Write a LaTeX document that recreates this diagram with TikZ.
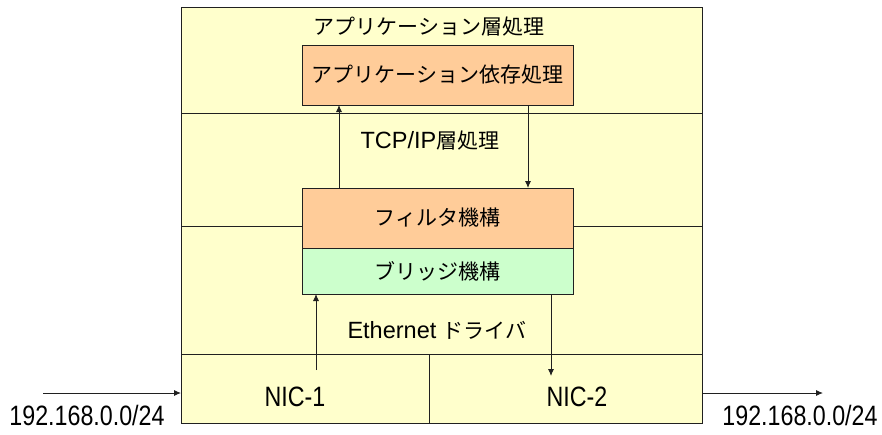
\documentclass[tikz,border=0pt]{standalone}
\usepackage{fontspec}
\setmainfont{Liberation Sans}
\newfontfamily\jp{Noto Sans CJK JP}
\newfontfamily\narrowfont[FakeStretch=0.83]{Liberation Sans}
\usetikzlibrary{arrows.meta}
\definecolor{bgyel}{HTML}{FFFFCC}
\definecolor{orng}{HTML}{FFCC99}
\definecolor{grn}{HTML}{CCFFCC}
\definecolor{ln}{HTML}{202020}
\begin{document}
\begin{tikzpicture}[x=1pt,y=-1pt,
  every node/.style={inner sep=0pt, outer sep=0pt},
  lbl/.style={font=\fontsize{21}{25}\selectfont},
  mlbl/.style={font=\fontsize{23.5}{27}\selectfont},
  nlbl/.style={font=\fontsize{28}{32}\selectfont\narrowfont},
  boxo/.style={draw=ln, line width=0.9pt, fill=orng, minimum width=271pt, lbl},
  boxg/.style={draw=ln, line width=0.9pt, fill=grn, minimum width=271pt, lbl},
  sep/.style={draw=ln, line width=0.9pt},
  arr/.style={draw=ln, line width=0.9pt, -{Latex[length=7pt,width=6pt]}}]
\useasboundingbox (0,0) rectangle (882,434);
% outer box
\node[draw=ln, line width=0.9pt, fill=bgyel, minimum width=521pt, minimum height=416pt] (outer) at (441.5,215) {};
% separators
\draw[sep] (181,113) -- (702,113);
\draw[sep] (181,226) -- (702,226);
\draw[sep] (181,354) -- (702,354);
\draw[sep] (429,354) -- (429,423);
% boxes
\node[boxo, minimum height=60pt] (app) at (437.5,75) {\jp アプリケーション依存処理};
\node[boxo, minimum height=60pt] (filter) at (437.5,218) {\jp フィルタ機構};
\node[boxg, minimum height=46pt, anchor=north] (bridge) at (filter.south) {\jp ブリッジ機構};
% labels
\node[lbl] (apptitle) at (429,27) {\jp アプリケーション層処理};
\node[mlbl] (tcpip) at (430,141) {TCP/IP{\fontsize{21}{25}\selectfont\jp 層処理}};
\node[mlbl] (eth) at (437,330) {Ethernet {\fontsize{21}{25}\selectfont\jp ドライバ}};
\node[nlbl] (nic1) at (295,397) {NIC-1};
\node[nlbl] (nic2) at (577,397) {NIC-2};
\node[nlbl] (ipL) at (87,415) {192.168.0.0/24};
\node[nlbl] (ipR) at (800,415) {192.168.0.0/24};
% arrows
\draw[arr] ([xshift=37pt]filter.north west) -- ([xshift=37pt]app.south west);
\draw[arr] ([xshift=-45pt]app.south east) -- ([xshift=-45pt]filter.north east);
\coordinate (n1top) at (316,370);
\coordinate (n2end) at (551,376);
\draw[arr] (n1top) -- (bridge.south -| n1top);
\draw[arr] (bridge.south -| n2end) -- (n2end);
\coordinate (inL) at (43,393);
\coordinate (outR) at (823,393);
\draw[arr] (inL) -- (inL -| outer.west);
\draw[arr] (outR -| outer.east) -- (outR);
\end{tikzpicture}
\end{document}
